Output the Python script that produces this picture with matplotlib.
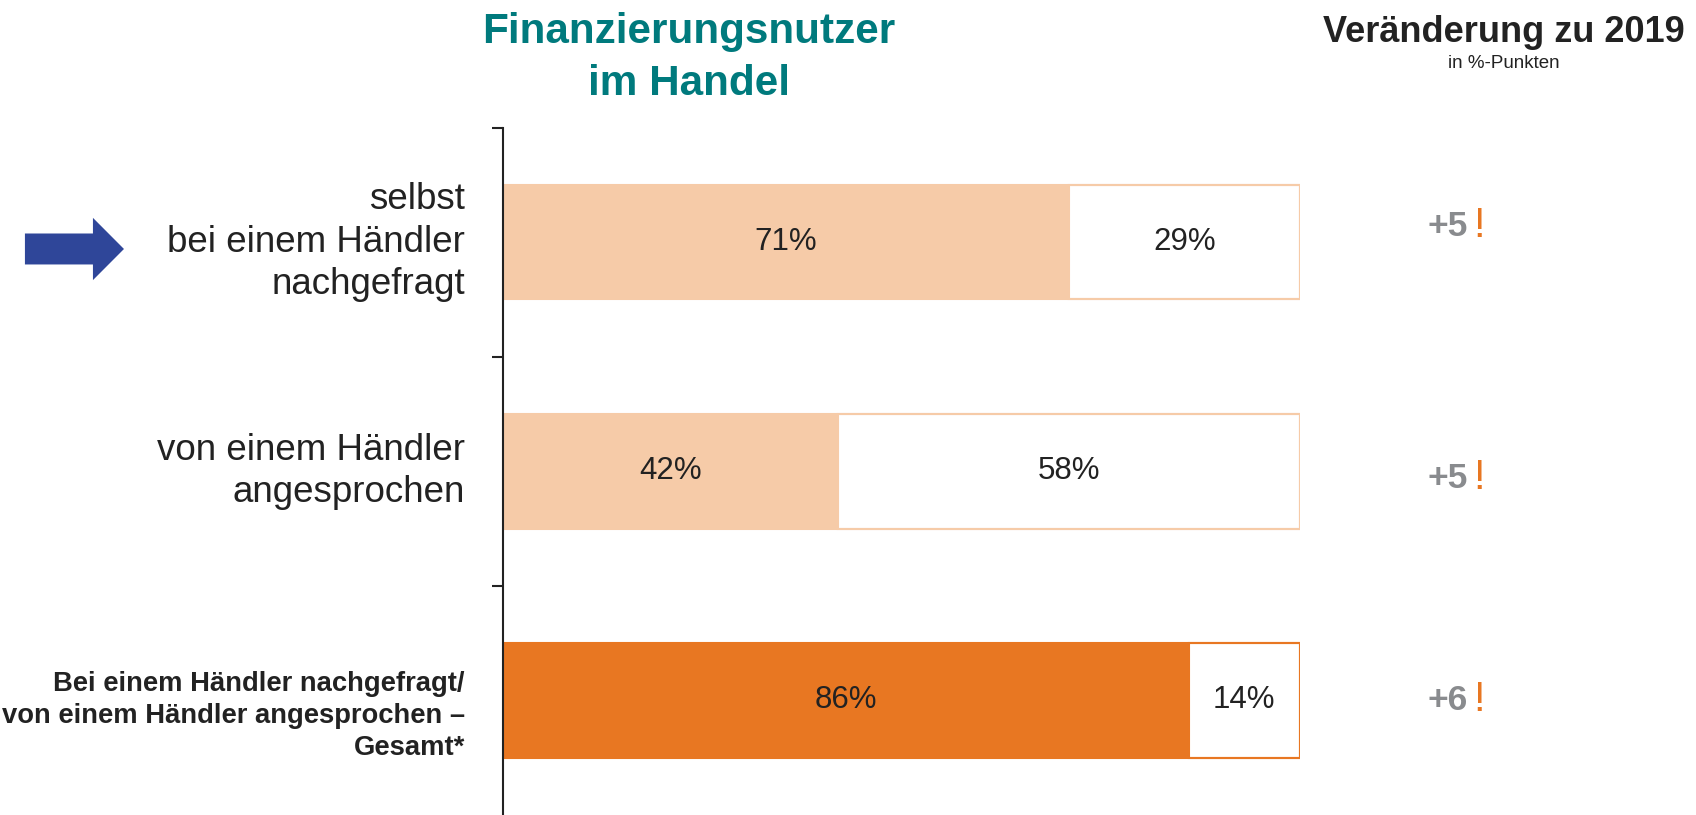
import numpy as np
import matplotlib
matplotlib.use("Agg")
import matplotlib.pyplot as plt
from matplotlib.patches import FancyArrow
import matplotlib.transforms as mtransforms

plt.rcParams['font.family'] = ['Liberation Sans', 'DejaVu Sans']

# data
categories = ["selbst\nbei einem Händler\nnachgefragt",
              "von einem Händler\nangesprochen",
              "Bei einem Händler nachgefragt/\nvon einem Händler angesprochen –\nGesamt*"]
yes_share = [71, 42, 86]
no_share = [29, 58, 14]
change_2019 = [5, 5, 6]

light = '#F6CBA8'
dark = '#E87722'
txt = '#222222'

fig = plt.figure(figsize=(16.96, 8.15), dpi=100)
ax = fig.add_axes([0.2966, 0.0, 0.470, 0.8434])

y = np.arange(len(categories))
fills = [light, light, dark]
ax.barh(y, yes_share, height=0.5, color=fills, edgecolor='none')
ax.barh(y, no_share, left=yes_share, height=0.5, color='white',
        edgecolor=fills, linewidth=1.5)
# outline of the full bar
ax.barh(y, [a + b for a, b in zip(yes_share, no_share)], height=0.5,
        color='none', edgecolor=fills, linewidth=1.5)

for i in range(len(categories)):
    ax.text(yes_share[i] / 2, y[i], f"{yes_share[i]}%", ha='center', va='center',
            fontsize=22.5, color=txt)
    ax.text(yes_share[i] + no_share[i] / 2, y[i], f"{no_share[i]}%", ha='center',
            va='center', fontsize=22.5, color=txt)

ax.set_xlim(0, 100)
ax.set_ylim(2.5, -0.5)
ax.set_yticks([-0.5, 0.5, 1.5])
ax.set_yticklabels([])
ax.set_xticks([])
ax.tick_params(axis='y', length=8, width=1.5, color='#222222')
for s in ['top', 'right', 'bottom']:
    ax.spines[s].set_visible(False)
ax.spines['left'].set_linewidth(1.5)
ax.spines['left'].set_color('#222222')

# category labels
trans = mtransforms.blended_transform_factory(fig.transFigure, ax.transData)
label_off = [0.0, 0.0, 0.07]
for i, lab in enumerate(categories):
    bold = i == 2
    ax.text(465 / 1696, y[i] + label_off[i], lab, transform=trans, ha='right', va='center',
            fontsize=19.7 if bold else 26.5, fontweight='bold' if bold else 'normal',
            color=txt, linespacing=1.3 if bold else 1.27)

# change vs 2019
change_off = [-0.07, 0.03, 0.0]
for i, c in enumerate(change_2019):
    ax.text(1468 / 1696, y[i] + change_off[i], f"+{c}", transform=trans, ha='right',
            va='center', fontsize=25.5, fontweight='bold', color='#898B8E')
    ax.text(1473 / 1696, y[i] + change_off[i], "!", transform=trans, ha='left',
            va='center', fontsize=30, color=dark)

# titles
fig.text(689 / 1696, 1 - 58 / 815, "Finanzierungsnutzer\nim Handel", ha='center',
         va='center', fontsize=30.4, fontweight='bold', color='#007A7D', linespacing=1.4)
fig.text(1504 / 1696, 1 - 32 / 815, "Veränderung zu 2019", ha='center', va='center',
         fontsize=26, fontweight='bold', color=txt)
fig.text(1504 / 1696, 1 - 63 / 815, "in %-Punkten", ha='center', va='center',
         fontsize=13.5, color=txt)

# arrow
arr = FancyArrow(0.0147, 0.6945, 0.0584, 0, width=0.038, head_width=0.0764,
                 head_length=0.0183, length_includes_head=True,
                 transform=fig.transFigure, color='#2F4699', linewidth=0)
fig.patches.append(arr)

fig.savefig('out.png', dpi=100)
